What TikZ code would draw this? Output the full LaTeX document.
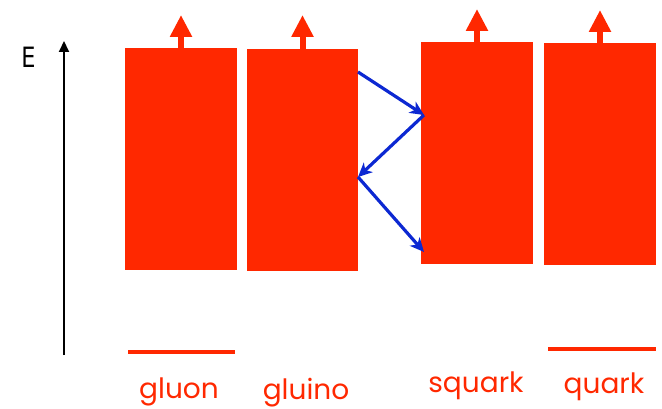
\documentclass[tikz,border=0pt]{standalone}
\usepackage{fontspec}
\setmainfont{Poppins}
\newfontfamily\axisfont{DejaVu Sans}
\usetikzlibrary{arrows.meta}
\definecolor{fred}{RGB}{255,40,0}
\definecolor{fblue}{RGB}{12,40,210}
\begin{document}
\begin{tikzpicture}[x=1pt,y=-1pt,
  statebox/.style={fill=fred,draw=none,inner sep=0pt,minimum width=112pt,minimum height=222pt},
  uparrow/.style={draw=fred,line width=6pt,-{Triangle[length=22pt,width=21pt]}},
  decay/.style={draw=fblue,line width=3.2pt,-{Stealth[length=14pt,width=13pt,inset=4pt]}},
  level/.style={draw=fred,line width=4pt},
  lbl/.style={text=fred,font=\fontsize{28}{30}\selectfont,anchor=base,inner sep=0pt}]
\useasboundingbox (0,0) rectangle (662,409);
% axis
\coordinate (ax0) at (64,355);
\coordinate (ax1) at (64,41);
\draw[line width=2pt,-{Triangle[length=11pt,width=10pt]}] (ax0) -- (ax1);
\node[font=\axisfont\fontsize{28}{30}\selectfont,inner sep=0pt] (E) at (28.5,57) {\scalebox{0.8}[1]{E}};
% boxes
\node[statebox,minimum width=112pt] (gluon) at (181,159) {};
\node[statebox,minimum width=111pt] (gluino) at (302.5,160) {};
\node[statebox] (squark) at (477,153) {};
\node[statebox] (quark) at (600,154) {};
% up arrows
\coordinate (t1) at (181,15);
\coordinate (t2) at (302.5,15);
\coordinate (t3) at (477,9);
\coordinate (t4) at (600,10);
\draw[uparrow] (gluon.north) -- (t1);
\draw[uparrow] (gluino.north) -- (t2);
\draw[uparrow] (squark.north) -- (t3);
\draw[uparrow] (quark.north) -- (t4);
% decay chain
\coordinate (p1) at (358,72);
\coordinate (p2) at (424,115);
\coordinate (p3) at (358,177);
\coordinate (p4) at (424,252);
\draw[decay] (p1) -- (p2);
\draw[decay] (p2) -- (p3);
\draw[decay] (p3) -- (p4);
% levels
\coordinate (l1a) at (128,352);
\coordinate (l1b) at (235,352);
\coordinate (l2a) at (548,349);
\coordinate (l2b) at (656,349);
\draw[level] (l1a) -- (l1b);
\draw[level] (l2a) -- (l2b);
% labels
\node[lbl] (tgluon) at (179,398) {gluon};
\node[lbl] (tgluino) at (306,399) {gluino};
\node[lbl] (tsquark) at (476,392) {squark};
\node[lbl] (tquark) at (604,393) {quark};
\end{tikzpicture}
\end{document}
